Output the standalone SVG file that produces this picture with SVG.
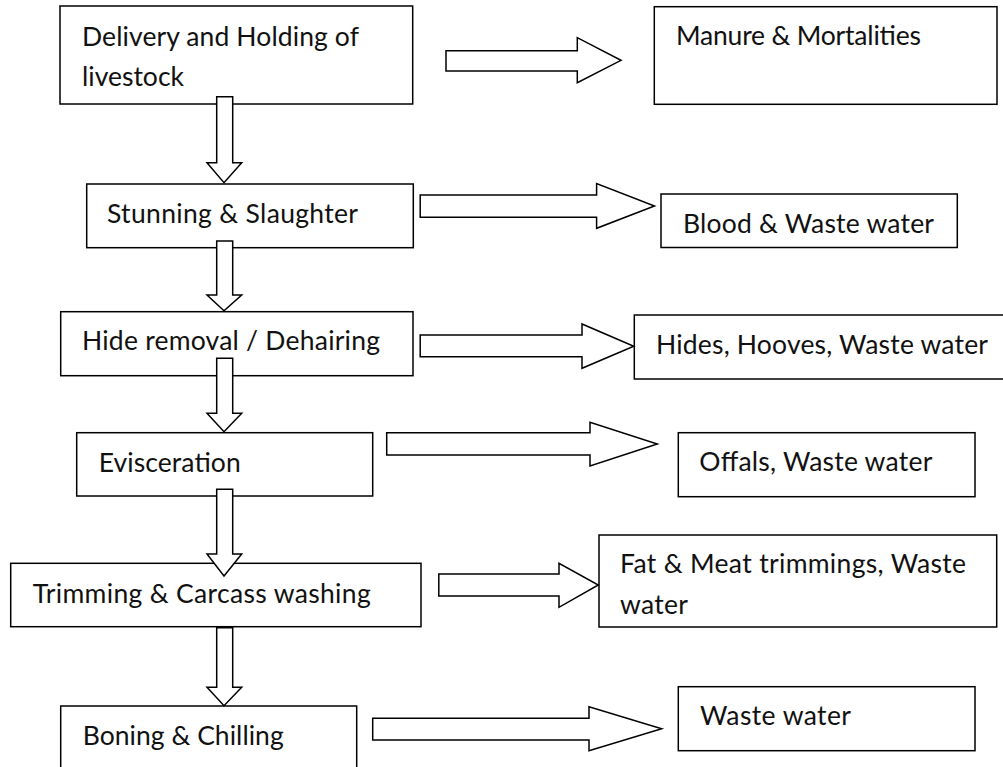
<svg xmlns="http://www.w3.org/2000/svg" width="1003" height="767" viewBox="0 0 1003 767">
<style>
.box{fill:#fff;stroke:#000;stroke-width:1.5}
.arr{fill:#fff;stroke:#000;stroke-width:1.5;stroke-linejoin:miter}
text{font-family:Lato,"Open Sans","Liberation Sans",sans-serif;font-size:26.5px;fill:#111}
</style>
<rect width="1003" height="767" fill="#fff"/>
<g id="n1"><rect class="box" x="60" y="6" width="352.7" height="98"/><text x="82" y="45.5" textLength="277">Delivery and Holding of</text><text x="82" y="85.5" textLength="102">livestock</text></g>
<g id="n2"><rect class="box" x="86.7" y="184" width="326.6" height="63.7"/><text x="107" y="223.3" textLength="251">Stunning &amp; Slaughter</text></g>
<g id="n3"><rect class="box" x="60.7" y="311.7" width="352.3" height="64"/><text x="82" y="350" textLength="298">Hide removal / Dehairing</text></g>
<g id="n4"><rect class="box" x="76.7" y="432.7" width="296" height="63.3"/><text x="98.7" y="471.5" textLength="142">Evisceration</text></g>
<g id="n5"><rect class="box" x="10.7" y="563.3" width="410.3" height="63.4"/><text x="32.7" y="603.3" textLength="338">Trimming &amp; Carcass washing</text></g>
<g id="n6"><rect class="box" x="60.7" y="706" width="296" height="70"/><text x="82.7" y="745" textLength="201">Boning &amp; Chilling</text></g>
<g id="o1"><rect class="box" x="654.3" y="6.7" width="342.7" height="97.6"/><text x="676" y="45" textLength="245">Manure &amp; Mortalities</text></g>
<g id="o2"><rect class="box" x="661" y="194" width="296.3" height="53.5"/><text x="683" y="233" textLength="251">Blood &amp; Waste water</text></g>
<g id="o3"><rect class="box" x="634.3" y="315" width="372" height="64"/><text x="656" y="354" textLength="332">Hides, Hooves, Waste water</text></g>
<g id="o4"><rect class="box" x="678.3" y="432.7" width="296.7" height="64"/><text x="699.3" y="470.7" textLength="233">Offals, Waste water</text></g>
<g id="o5"><rect class="box" x="599" y="535" width="397.7" height="92"/><text x="620" y="573" textLength="346">Fat &amp; Meat trimmings, Waste</text><text x="620" y="614" textLength="68">water</text></g>
<g id="o6"><rect class="box" x="678.3" y="686.7" width="296.7" height="64"/><text x="700" y="725" textLength="151">Waste water</text></g>
<g id="connectors">
<polygon class="arr" points="216.7,96.7 232.7,96.7 232.7,162.7 241.7,162.7 224,182.7 207,162.7 216.7,162.7"/>
<polygon class="arr" points="216.7,241 232.7,241 232.7,295 241.7,295 224,310.7 207,295 216.7,295"/>
<polygon class="arr" points="216.7,358.3 232.7,358.3 232.7,413.3 241.7,413.3 224,431.7 207,413.3 216.7,413.3"/>
<polygon class="arr" points="216.7,489.3 232.7,489.3 232.7,554 241.7,554 224,576 207,554 216.7,554"/>
<polygon class="arr" points="216.7,627.7 232.7,627.7 232.7,687.3 241.7,687.3 224,705.7 207,687.3 216.7,687.3"/>
<polygon class="arr" points="446,50.7 577.3,50.7 577.3,37.7 621,60.3 577.3,82.7 577.3,71 446,71"/>
<polygon class="arr" points="420.2,195 596.6,195 596.6,183.5 654.5,206 596.6,228.3 596.6,217.3 420.2,217.3"/>
<polygon class="arr" points="420.2,335 582,335 582,324 633.8,346.3 582,368.3 582,356.7 420.2,356.7"/>
<polygon class="arr" points="386.7,432.7 590,432.7 590,422.3 657.3,444 590,466 590,455 386.7,455"/>
<polygon class="arr" points="438.8,574 559,574 559,563.3 598.3,585 559,607.3 559,596 438.8,596"/>
<polygon class="arr" points="372.7,718.3 589,718.3 589,706.7 661.7,728.7 589,750.7 589,740 372.7,740"/>
</g>
</svg>
